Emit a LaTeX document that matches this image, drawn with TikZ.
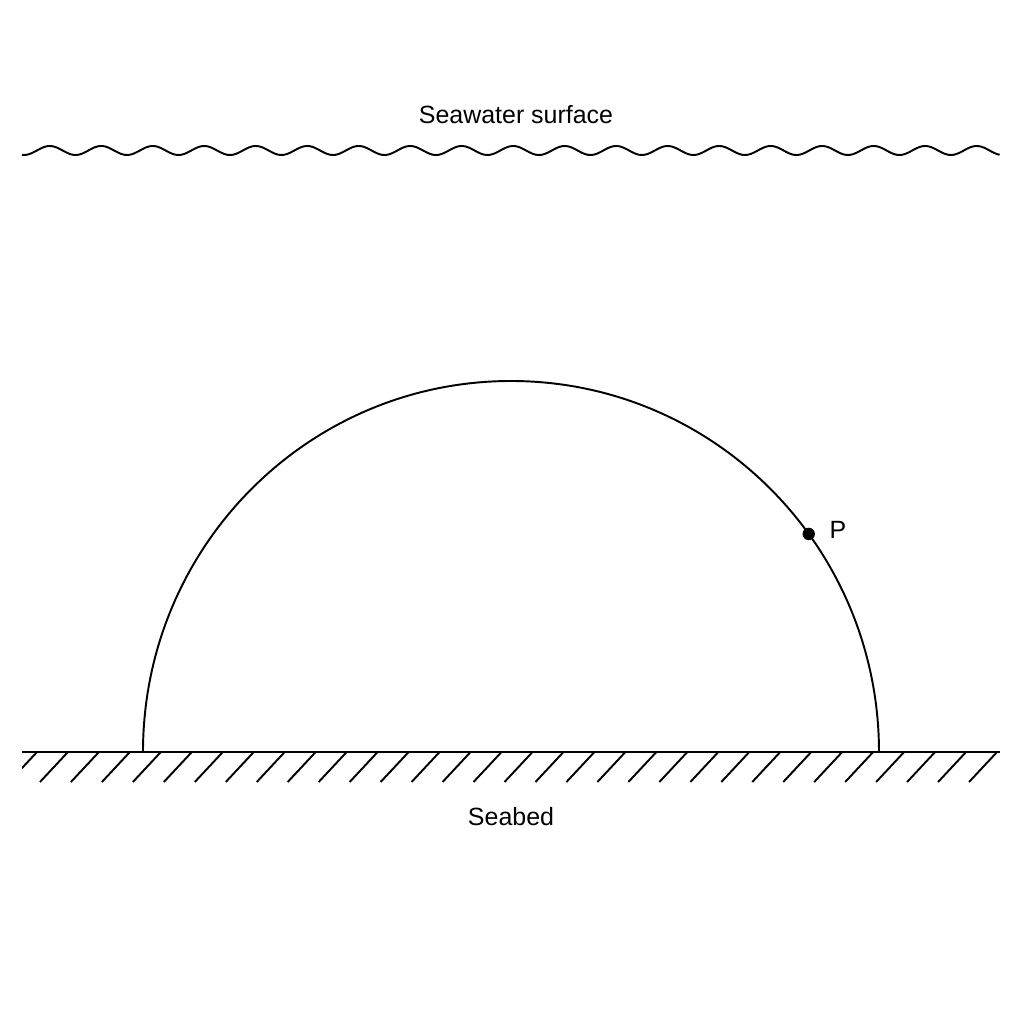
\documentclass[tikz,border=0pt]{standalone}
\usepackage{fontspec}
\setmainfont{Liberation Sans}
\usetikzlibrary{calc}
\begin{document}
\begin{tikzpicture}[line width=0.55pt,
  lbl/.style={font=\fontsize{7.1pt}{8.5pt}\selectfont, inner sep=0pt}]
\useasboundingbox (0,0) rectangle (10.24,10.24);
% water surface
\draw plot[domain=0.22:10.0, samples=500, smooth] (\x, {8.735-0.045*cos(360*(\x-0.24)/0.515)});
\node[lbl] (surface) at (5.16,9.09) {Seawater surface};
% seabed with hatching
\draw (0.22,2.72) -- (10.0,2.72);
\begin{scope}
\clip (0.22,2.3) rectangle (10.0,2.72);
\foreach \i in {0,...,31}
  \draw (0.37+0.3097*\i,2.72) -- ++(-0.28,-0.30);
\end{scope}
\node[lbl] (seabed) at (5.11,2.07) {Seabed};
% dome
\draw (1.43,2.72) arc (180:0:3.68 and 3.71);
\coordinate (P) at ($(5.11,2.72)+(36:3.68 and 3.71)$);
\fill (P) circle (0.062);
\node[lbl] (Plabel) at (8.38,4.94) {P};
\end{tikzpicture}
\end{document}
